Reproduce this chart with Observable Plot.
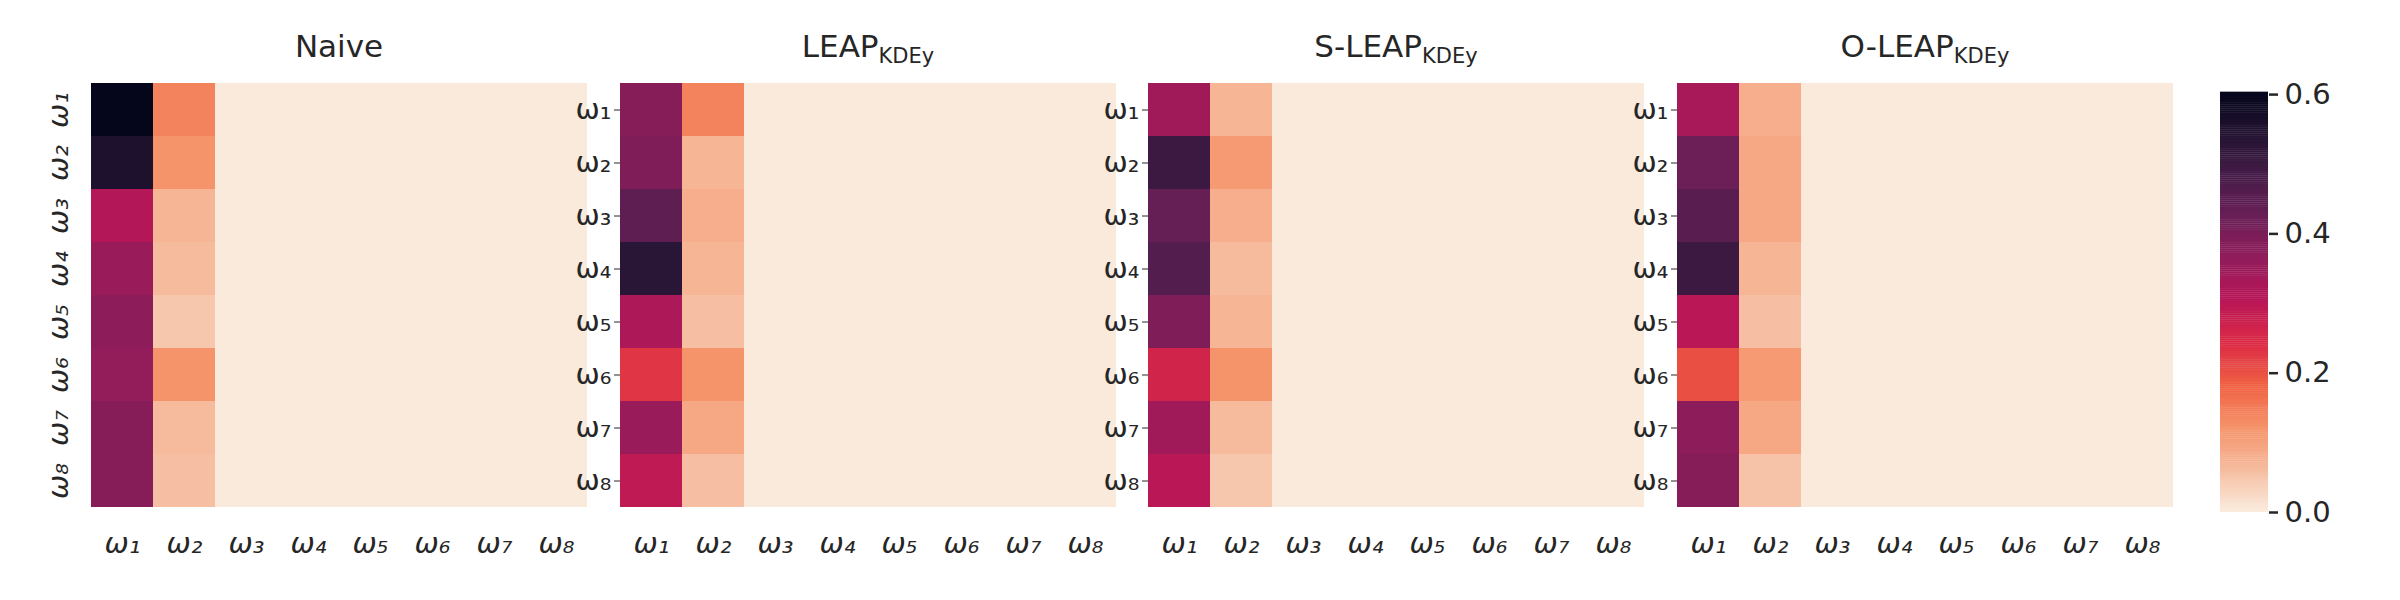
<!DOCTYPE html>
<html>
<head>
<meta charset="utf-8">
<script src="https://cdn.jsdelivr.net/npm/d3@7"></script>
<script src="https://cdn.jsdelivr.net/npm/@observablehq/plot@0.6"></script>
<style>
  body { margin: 0; background: #fff; font-family: "DejaVu Sans", sans-serif; }
  #chart { position: relative; width: 2400px; height: 600px; }
  .panel { position: absolute; top: 0; }
  .title { position: absolute; top: 28px; width: 496px; text-align: center; font-size: 31px; color: #262626; }
  .title sub { font-size: 21px; vertical-align: -6px; }
</style>
</head>
<body>
<div id="chart"></div>
<script>
const classes = ['ω₁', 'ω₂', 'ω₃', 'ω₄', 'ω₅', 'ω₆', 'ω₇', 'ω₈']
const titles = ['Naive', 'LEAP<sub>KDEy</sub>', 'S-LEAP<sub>KDEy</sub>', 'O-LEAP<sub>KDEy</sub>']
// first two columns per method (rows ω1..ω8); other columns are ~0
const naiveCol1 = [0.60, 0.55, 0.31, 0.35, 0.37, 0.36, 0.38, 0.38]
const naiveCol2 = [0.14, 0.12, 0.07, 0.06, 0.045, 0.12, 0.06, 0.055]
const leapCol1 = [0.38, 0.39, 0.44, 0.53, 0.32, 0.23, 0.35, 0.29]
const leapCol2 = [0.14, 0.07, 0.08, 0.07, 0.055, 0.12, 0.09, 0.055]
const sleapCol1 = [0.34, 0.50, 0.43, 0.46, 0.39, 0.26, 0.34, 0.30]
const sleapCol2 = [0.07, 0.11, 0.08, 0.06, 0.07, 0.12, 0.06, 0.045]
const oleapCol1 = [0.33, 0.42, 0.45, 0.50, 0.30, 0.20, 0.37, 0.38]
const oleapCol2 = [0.08, 0.09, 0.09, 0.07, 0.055, 0.11, 0.09, 0.05]
const restValue = 0.001
const cbTicks = [0, 0.2, 0.4, 0.6]

// seaborn "rocket_r"
const rocketR = d3.piecewise(d3.interpolateRgb, ['#faebdd', '#f6bb9d', '#f5936a', '#f06043', '#dc2b46', '#b91657', '#921c5b', '#6a1f56', '#451c47', '#221331', '#03051a'])
const colorOpts = { type: 'linear', domain: [0, 0.603], interpolate: () => rocketR, clamp: true }

const methods = [[naiveCol1, naiveCol2], [leapCol1, leapCol2], [sleapCol1, sleapCol2], [oleapCol1, oleapCol2]]
const lefts = [91, 620, 1148, 1677]
const chart = d3.select('#chart')

methods.forEach(([c1, c2], i) => {
  const cells = []
  classes.forEach((r, ri) => classes.forEach((c, ci) => {
    cells.push({ row: r, col: c, v: ci === 0 ? c1[ri] : ci === 1 ? c2[ri] : restValue })
  }))
  const ml = 80
  const p = Plot.plot({
    width: 496 + ml, height: 600,
    marginLeft: ml, marginRight: 0, marginTop: 80, marginBottom: 90,
    style: { fontFamily: 'DejaVu Sans', fontSize: '29px', color: '#262626', background: 'transparent' },
    x: { domain: classes, padding: 0, label: null },
    y: { domain: classes, padding: 0, label: null },
    color: colorOpts,
    marks: [
      Plot.cell(cells, { x: 'col', y: 'row', fill: 'v', inset: 0 }),
      Plot.axisX({ tickSize: 0, tickPadding: 22, fontStyle: 'italic', label: null }),
      i === 0 ? Plot.axisY({ tickSize: 0, rotate: -90, textAnchor: 'middle', dx: -24, dy: 0, fontStyle: 'italic', label: null }) : null
    ]
  })
  const d = chart.append('div').attr('class', 'panel').style('left', (lefts[i] - ml) + 'px')
  d.append(() => p)
  chart.append('div').attr('class', 'title').style('left', lefts[i] + 'px').html(titles[i])
})

// colorbar
const steps = d3.range(0, 0.603, 0.003).map(v => ({ v }))
const cb = Plot.plot({
  width: 150, height: 600,
  marginLeft: 0, marginRight: 102, marginTop: 92, marginBottom: 88,
  style: { fontFamily: 'DejaVu Sans', fontSize: '29px', color: '#262626', background: 'transparent' },
  x: { axis: null, domain: [0, 1] },
  y: { domain: [0, 0.603], label: null },
  color: colorOpts,
  marks: [
    Plot.rect(steps, { x1: 0, x2: 1, y1: 'v', y2: d => d.v + 0.0035, fill: 'v' }),
    Plot.axisY({ anchor: 'right', ticks: cbTicks, tickFormat: d3.format('.1f'), tickSize: 9, tickPadding: 7, strokeWidth: 2.5, label: null })
  ]
})
chart.append('div').attr('class', 'panel').style('left', '2220px').append(() => cb)
</script>
</body>
</html>
